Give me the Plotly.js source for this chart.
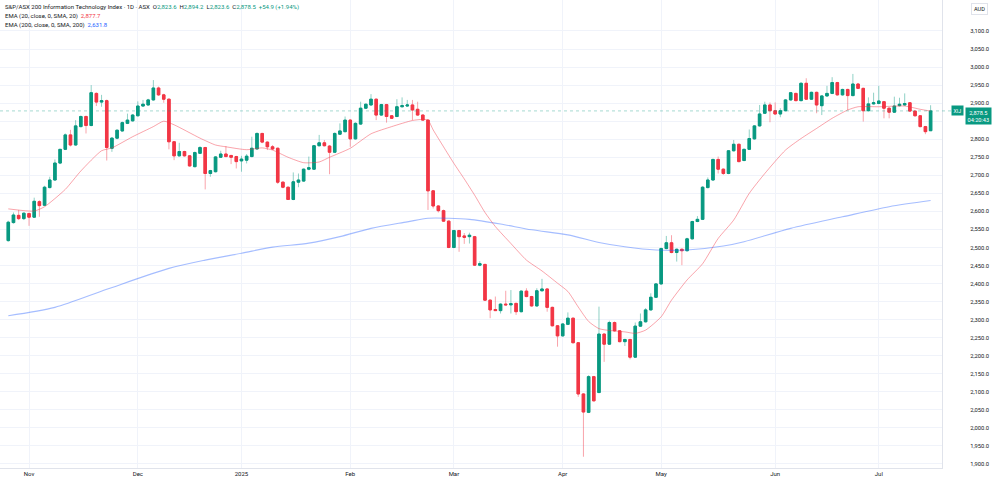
<!DOCTYPE html>
<html>
<head>
<meta charset="utf-8">
<script src="https://cdn.plot.ly/plotly-3.0.1.min.js"></script>
<style>
html,body{margin:0;padding:0;background:#fff;}
#chart{width:1000px;height:484px;}
</style>
</head>
<body>
<div id="chart"></div>
<script>
const dates = [
'2024-10-28','2024-10-29','2024-10-30','2024-10-31',
'2024-11-01','2024-11-04','2024-11-05','2024-11-06','2024-11-07','2024-11-08','2024-11-11','2024-11-12','2024-11-13','2024-11-14','2024-11-15','2024-11-18','2024-11-19','2024-11-20','2024-11-21','2024-11-22','2024-11-25','2024-11-26','2024-11-27','2024-11-28','2024-11-29',
'2024-12-02','2024-12-03','2024-12-04','2024-12-05','2024-12-06','2024-12-09','2024-12-10','2024-12-11','2024-12-12','2024-12-13','2024-12-16','2024-12-17','2024-12-18','2024-12-19','2024-12-20','2024-12-23','2024-12-24','2024-12-27','2024-12-30','2024-12-31',
'2025-01-02','2025-01-03','2025-01-06','2025-01-07','2025-01-08','2025-01-09','2025-01-10','2025-01-13','2025-01-14','2025-01-15','2025-01-16','2025-01-17','2025-01-20','2025-01-21','2025-01-22','2025-01-23','2025-01-24','2025-01-28','2025-01-29','2025-01-30','2025-01-31',
'2025-02-03','2025-02-04','2025-02-05','2025-02-06','2025-02-07','2025-02-10','2025-02-11','2025-02-12','2025-02-13','2025-02-14','2025-02-17','2025-02-18','2025-02-19','2025-02-20','2025-02-21','2025-02-24','2025-02-25','2025-02-26','2025-02-27','2025-02-28',
'2025-03-03','2025-03-04','2025-03-05','2025-03-06','2025-03-07','2025-03-10','2025-03-11','2025-03-12','2025-03-13','2025-03-14','2025-03-17','2025-03-18','2025-03-19','2025-03-20','2025-03-21','2025-03-24','2025-03-25','2025-03-26','2025-03-27','2025-03-28','2025-03-31',
'2025-04-01','2025-04-02','2025-04-03','2025-04-04','2025-04-07','2025-04-08','2025-04-09','2025-04-10','2025-04-11','2025-04-14','2025-04-15','2025-04-16','2025-04-17','2025-04-22','2025-04-23','2025-04-24','2025-04-28','2025-04-29','2025-04-30',
'2025-05-01','2025-05-02','2025-05-05','2025-05-06','2025-05-07','2025-05-08','2025-05-09','2025-05-12','2025-05-13','2025-05-14','2025-05-15','2025-05-16','2025-05-19','2025-05-20','2025-05-21','2025-05-22','2025-05-23','2025-05-26','2025-05-27','2025-05-28','2025-05-29','2025-05-30',
'2025-06-02','2025-06-03','2025-06-04','2025-06-05','2025-06-06','2025-06-10','2025-06-11','2025-06-12','2025-06-13','2025-06-16','2025-06-17','2025-06-18','2025-06-19','2025-06-20','2025-06-23','2025-06-24','2025-06-25','2025-06-26','2025-06-27','2025-06-30',
'2025-07-01','2025-07-02','2025-07-03','2025-07-04','2025-07-07','2025-07-08','2025-07-09','2025-07-10','2025-07-11','2025-07-14','2025-07-15'
];

const open = [
2519,2569,2589,2580,2594,2584,2627,2617,2666,2687,
2734,2772,2812,2784,2835,2863,2838,2927,2903,2907,
2775,2803,2823,2844,2851,2865,2892,2895,2909,2942,
2923,2911,2793,2754,2766,2754,2724,2761,2777,2705,
2710,2750,2759,2755,2752,2740,2742,2752,2773,2816,
2792,2779,2775,2681,2667,2633,2681,2684,2717,2717,
2782,2790,2781,2764,2814,2821,2853,2801,2842,2886,
2895,2911,2867,2896,2865,2863,2890,2892,2895,2883,
2867,2853,2657,2615,2602,2573,2500,2547,2532,2530,
2530,2451,2453,2354,2328,2325,2343,2341,2345,2322,
2379,2364,2338,2380,2385,2334,2283,2255,2287,2304,
2236,2094,2043,2142,2098,2260,2232,2292,2269,2239,
2245,2196,2282,2294,2327,2362,2399,2497,2513,2486,
2495,2491,2524,2572,2578,2666,2687,2744,2717,2705,
2768,2786,2741,2772,2801,2837,2872,2895,2879,2870,
2879,2909,2927,2907,2955,2911,2930,2893,2920,2927,
2957,2923,2938,2921,2953,2941,2879,2898,2899,2904,
2886,2875,2893,2895,2901,2878,2865,2835,2823.6
];

const high = [
2574,2597,2604,2597,2597,2638,2631,2671,2696,2744,
2773,2816,2826,2853,2866,2866,2950,2930,2923,2910,
2806,2827,2849,2871,2870,2905,2909,2912,2964,2946,
2926,2913,2795,2790,2768,2756,2766,2781,2779,2715,
2753,2768,2781,2757,2754,2754,2759,2807,2819,2818,
2794,2784,2777,2683,2669,2708,2705,2719,2752,2784,
2812,2798,2784,2819,2844,2863,2856,2847,2904,2899,
2925,2913,2898,2898,2867,2911,2916,2909,2909,2904,
2869,2855,2659,2617,2605,2575,2549,2549,2540,2541,
2532,2462,2455,2356,2364,2345,2380,2382,2347,2381,
2387,2366,2387,2413,2387,2336,2285,2290,2320,2306,
2238,2096,2146,2144,2336,2262,2297,2295,2271,2247,
2247,2292,2317,2332,2373,2401,2500,2532,2534,2497,
2497,2527,2574,2587,2670,2694,2746,2752,2719,2770,
2798,2788,2774,2827,2839,2895,2904,2902,2902,2886,
2911,2931,2929,2958,2969,2932,2932,2922,2948,2972,
2959,2940,2940,2981,2956,2943,2916,2929,2948,2906,
2888,2918,2915,2927,2903,2880,2867,2837,2894.2
];

const low = [
2516,2566,2576,2576,2560,2582,2585,2615,2664,2685,
2731,2770,2780,2782,2833,2816,2836,2892,2890,2741,
2765,2800,2821,2842,2849,2863,2890,2893,2907,2920,
2901,2772,2742,2752,2752,2724,2722,2759,2661,2696,
2708,2748,2750,2731,2719,2710,2733,2750,2772,2789,
2770,2770,2676,2664,2632,2631,2667,2682,2714,2715,
2780,2780,2703,2762,2812,2819,2779,2799,2840,2884,
2893,2853,2865,2846,2856,2861,2888,2890,2853,2865,
2851,2604,2608,2597,2571,2498,2498,2488,2510,2511,
2449,2448,2352,2304,2324,2317,2340,2317,2313,2320,
2362,2336,2336,2378,2322,2281,2225,2253,2285,2234,
2086,1920,2041,2073,2096,2183,2230,2267,2237,2227,
2190,2194,2280,2292,2325,2360,2397,2495,2484,2461,
2451,2489,2522,2570,2576,2664,2685,2705,2701,2703,
2766,2736,2739,2770,2799,2835,2870,2847,2868,2861,
2877,2907,2905,2905,2909,2909,2872,2867,2918,2925,
2921,2921,2881,2919,2939,2849,2877,2896,2897,2858,
2858,2873,2891,2893,2876,2863,2833,2814,2823.6
];

const close = [
2570,2590,2580,2595,2584,2628,2616,2667,2687,2734,
2772,2812,2784,2837,2863,2838,2929,2903,2907,2777,
2803,2825,2846,2853,2867,2892,2897,2909,2942,2923,
2911,2793,2754,2766,2754,2726,2763,2777,2705,2713,
2751,2759,2752,2750,2738,2745,2753,2775,2816,2792,
2779,2773,2681,2667,2633,2682,2687,2717,2721,2782,
2790,2782,2764,2816,2823,2853,2801,2844,2886,2897,
2911,2867,2896,2863,2858,2890,2893,2895,2881,2867,
2853,2657,2615,2602,2573,2500,2547,2530,2528,2534,
2451,2455,2354,2327,2325,2343,2341,2344,2322,2379,
2364,2338,2380,2385,2334,2283,2255,2288,2304,2236,
2094,2044,2142,2075,2260,2232,2292,2269,2239,2245,
2196,2282,2294,2327,2362,2399,2497,2513,2486,2495,
2491,2524,2572,2578,2667,2687,2744,2717,2705,2768,
2786,2738,2772,2802,2837,2870,2895,2879,2870,2879,
2909,2929,2907,2955,2911,2930,2895,2920,2927,2957,
2923,2938,2921,2953,2941,2879,2898,2901,2906,2886,
2875,2892,2897,2899,2878,2865,2835,2821,2878.5
];

const ema20Idx = [0,5,7,11,14,18,20,24,28,30,32,37,40,42,46,49,51,54,57,60,62,66,70,74,78,80,81,82,84,86,88,90,92,94,97,100,103,106,108,110,112,114,116,119,121,123,126,128,131,134,137,140,143,146,150,153,156,159,162,164,168,173,176,178];
const ema20Val = [2607,2601,2613,2661,2712,2768,2776,2807,2835,2850,2840,2803,2784,2779,2771,2776,2770,2750,2735,2737,2750,2775,2815,2835,2852,2855,2853,2826,2779,2733,2690,2645,2597,2558,2511,2465,2435,2401,2378,2335,2295,2275,2270,2266,2262,2271,2308,2354,2410,2455,2525,2576,2650,2705,2770,2802,2830,2858,2881,2890,2890,2892,2883,2878];

const ema200Idx = [0,9,19,31,38,45,51,58,64,70,77,81,85,89,95,101,108,114,119,125,131,138,142,151,161,170,178];
const ema200Val = [2311,2334,2384,2442,2465,2484,2501,2512,2530,2553,2571,2581,2581,2578,2565,2549,2535,2514,2502,2493,2493,2504,2516,2553,2585,2613,2630];

const monthTickDates = ['2024-11-01','2024-12-02','2025-01-02','2025-02-03','2025-03-03','2025-04-01','2025-05-01','2025-06-02','2025-07-01'];
const monthTickText = ['Nov','Dec','2025','Feb','Mar','Apr','May','Jun','Jul'];
const priceTicks = [1900,1950,2000,2050,2100,2150,2200,2250,2300,2350,2400,2450,2500,2550,2600,2650,2700,2750,2800,2850,2900,2950,3000,3050,3100];
// 2,850.0 sits behind the last-price box in the reference, so its label is left blank
const priceTickText = ['1,900.0','1,950.0','2,000.0','2,050.0','2,100.0','2,150.0','2,200.0','2,250.0','2,300.0','2,350.0','2,400.0','2,450.0','2,500.0','2,550.0','2,600.0','2,650.0','2,700.0','2,750.0','2,800.0','','2,900.0','2,950.0','3,000.0','3,050.0','3,100.0'];

const legendOHLC = {o:'2,823.6', h:'2,894.2', l:'2,823.6', c:'2,878.5', chg:'+54.9 (+1.94%)'};
const ema20Last = '2,877.7';
const ema200Last = '2,631.8';
const lastTime = '04:20:43';
const ticker = 'XIJ';

const GREEN = '#089981', RED = '#F23645';
const FONT = 'Roboto, "Liberation Sans", sans-serif';

const bodyHigh = open.map((o,k)=>Math.max(o, close[k]));
const bodyLow = open.map((o,k)=>Math.min(o, close[k]));
const lastClose = close[close.length-1];

const traces = [
  {
    type:'candlestick', x:dates, open:open, high:high, low:low, close:close,
    increasing:{line:{color:'rgba(8,153,129,0.45)', width:1}, fillcolor:'rgba(8,153,129,0.45)'},
    decreasing:{line:{color:'rgba(242,54,69,0.45)', width:1}, fillcolor:'rgba(242,54,69,0.45)'},
    hoverinfo:'skip', showlegend:false
  },
  {
    type:'candlestick', x:dates, open:open, high:bodyHigh, low:bodyLow, close:close,
    increasing:{line:{color:GREEN, width:1}, fillcolor:GREEN},
    decreasing:{line:{color:RED, width:1}, fillcolor:RED},
    hoverinfo:'skip', showlegend:false
  },
  {
    type:'scatter', mode:'lines', x:ema200Idx.map(i=>dates[i]), y:ema200Val,
    line:{color:'rgba(41,98,255,0.42)', width:1.1, shape:'spline', smoothing:0.8},
    hoverinfo:'skip', showlegend:false
  },
  {
    type:'scatter', mode:'lines', x:ema20Idx.map(i=>dates[i]), y:ema20Val,
    line:{color:'rgba(242,54,69,0.45)', width:1, shape:'spline', smoothing:0.6},
    hoverinfo:'skip', showlegend:false
  }
];

const PW = 942, PH = 468;
const px = v => v/PW, py = v => 1 - v/PH;
const g = s => '<span style="color:'+GREEN+'">'+s+'</span>';

const annotations = [
  {xref:'paper', yref:'paper', x:px(3), y:py(7), xanchor:'left', yanchor:'middle', showarrow:false,
   font:{family:FONT, size:6, color:'#131722'},
   text:'S&P/ASX 200 Information Technology Index · 1D · ASX  O'+g(legendOHLC.o)+'  H'+g(legendOHLC.h)+'  L'+g(legendOHLC.l)+'  C'+g(legendOHLC.c)+'  '+g(legendOHLC.chg)},
  {xref:'paper', yref:'paper', x:px(3), y:py(16), xanchor:'left', yanchor:'middle', showarrow:false,
   font:{family:FONT, size:6, color:'#131722'},
   text:'EMA (20, close, 0, SMA, 20)  <span style="color:'+RED+'">'+ema20Last+'</span>'},
  {xref:'paper', yref:'paper', x:px(3), y:py(25), xanchor:'left', yanchor:'middle', showarrow:false,
   font:{family:FONT, size:6, color:'#131722'},
   text:'EMA (200, close, 0, SMA, 200)  <span style="color:#2962FF">'+ema200Last+'</span>'},
  {xref:'paper', yref:'paper', x:px(979), y:py(9), xanchor:'center', yanchor:'middle', showarrow:false,
   font:{family:FONT, size:5.6, color:'#131722'}, text:'AUD',
   bgcolor:'#ffffff', bordercolor:'#e0e3eb', borderwidth:1, borderpad:2},
  {xref:'paper', yref:'y', x:px(978.5), y:lastClose, xanchor:'center', yanchor:'top', yshift:4, showarrow:false,
   font:{family:FONT, size:5.6, color:'#ffffff'}, text:'2,878.5<br>'+lastTime,
   bgcolor:GREEN, borderpad:1.5, align:'center'},
  {xref:'paper', yref:'y', x:px(957), y:lastClose, xanchor:'center', yanchor:'middle', yshift:0, showarrow:false,
   font:{family:FONT, size:5.2, color:'#ffffff'}, text:ticker,
   bgcolor:GREEN, borderpad:1.5}
];

const layout = {
  width:1000, height:484,
  margin:{l:0, r:1000-PW, t:0, b:484-PH, pad:0},
  paper_bgcolor:'#ffffff', plot_bgcolor:'#ffffff',
  showlegend:false,
  xaxis:{
    type:'category', range:[-1.6, 180.2], rangeslider:{visible:false},
    tickmode:'array', tickvals:monthTickDates, ticktext:monthTickText,
    showgrid:true, gridcolor:'#f0f3fa', gridwidth:1,
    showline:true, linecolor:'#e0e3eb', linewidth:1,
    ticks:'', tickfont:{family:FONT, size:6, color:'#131722'},
    fixedrange:true, zeroline:false
  },
  yaxis:{
    side:'right', range:[1888.8, 3185.9],
    tickmode:'array', tickvals:priceTicks, ticktext:priceTickText,
    showgrid:true, gridcolor:'#f0f3fa', gridwidth:1,
    showline:true, linecolor:'#e0e3eb', linewidth:1,
    ticks:'', ticklabelstandoff:26,
    tickfont:{family:FONT, size:5.8, color:'#131722'},
    zeroline:false, fixedrange:true
  },
  shapes:[
    {type:'line', xref:'paper', yref:'y', x0:0, x1:px(952), y0:lastClose, y1:lastClose,
     line:{color:'rgba(8,153,129,0.45)', width:0.8, dash:'dot'}}
  ],
  annotations:annotations
};

Plotly.newPlot('chart', traces, layout, {staticPlot:true, displayModeBar:false});
</script>
</body>
</html>
